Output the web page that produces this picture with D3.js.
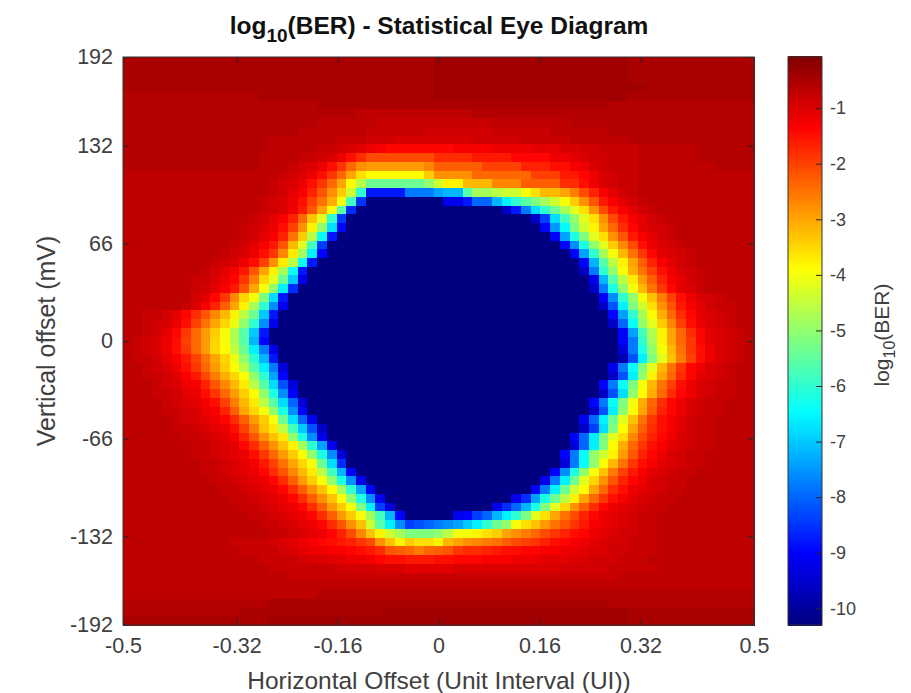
<!DOCTYPE html>
<html>
<head>
<meta charset="utf-8">
<script src="https://cdn.jsdelivr.net/npm/d3@7"></script>
<style>
body { margin: 0; background: #fff; }
text { font-family: "Liberation Sans", Arial, sans-serif; fill: #404040; }
</style>
</head>
<body>
<script>
var width = 911, height = 693;

const xTicks = [-0.5, -0.32, -0.16, 0, 0.16, 0.32, 0.5];
const yTicks = [-192, -132, -66, 0, 66, 132, 192];
const barTicks = [-1, -2, -3, -4, -5, -6, -7, -8, -9, -10];
const barDomain = [-10.3, -0.08];
const jetStops = ["#000080", "#0000ff", "#00ffff", "#ffff00", "#ff0000", "#800000"];
const jetPos = [0, 0.125, 0.375, 0.625, 0.875, 1];

// -log10(BER) in tenths. 65 rows top to bottom, 65 columns left to right
const berDepth = [
[5,5,5,5,5,5,5,5,5,5,5,5,5,5,5,5,5,5,5,5,5,5,5,5,5,5,5,5,5,5,5,5,4,4,4,4,4,4,4,4,4,4,4,4,4,4,4,4,4,4,4,4,5,5,5,5,5,5,5,5,5,5,5,5,5],
[5,5,5,5,5,5,5,5,5,5,5,5,5,5,5,5,5,5,5,5,5,5,5,5,5,5,5,5,5,5,5,5,4,4,4,4,4,4,4,4,4,4,4,4,4,4,4,4,4,4,4,4,5,5,5,5,5,5,5,5,5,5,5,5,5],
[5,5,5,5,5,5,5,5,5,5,5,5,5,5,5,5,5,5,5,5,5,5,5,5,5,5,5,5,5,5,5,5,4,4,4,4,4,4,4,4,4,4,4,4,4,4,4,4,4,4,4,4,5,5,5,5,5,5,5,5,5,5,5,5,5],
[5,5,5,5,5,5,5,5,5,5,5,5,5,5,5,5,5,5,5,5,5,5,5,5,5,5,5,5,5,5,5,5,4,4,4,4,4,4,4,4,4,4,4,4,4,4,4,4,4,4,4,4,4,4,5,5,5,5,5,5,5,5,5,5,5],
[6,6,6,6,6,6,6,6,6,6,6,6,6,6,5,5,5,5,5,5,5,5,5,5,5,5,5,5,5,5,5,5,4,4,4,4,4,4,4,4,4,4,4,4,4,4,4,4,4,4,4,4,5,5,5,5,5,5,5,5,5,5,5,5,5],
[6,6,6,6,6,6,6,6,6,6,6,6,6,6,6,6,6,6,6,6,5,5,5,5,5,5,5,5,5,5,5,5,5,5,5,5,5,5,5,5,5,5,5,5,5,5,5,5,5,5,6,6,6,6,6,6,6,6,6,6,6,6,6,6,6],
[6,6,6,6,6,6,6,6,6,6,6,6,6,6,6,6,6,6,6,6,6,6,6,6,7,7,7,7,7,7,7,7,7,7,7,7,6,6,6,6,6,6,6,6,6,6,6,6,6,6,6,6,6,6,6,6,6,6,6,6,6,6,6,6,6],
[6,6,6,6,6,6,6,6,6,6,6,6,6,6,6,6,6,6,6,6,7,7,7,7,7,7,8,8,8,8,8,8,8,8,8,8,8,8,7,7,7,7,7,7,7,7,6,6,6,6,6,6,6,6,6,6,6,6,6,6,6,6,6,6,6],
[6,6,6,6,6,6,6,6,6,6,6,6,6,6,6,6,6,6,7,7,7,7,7,7,7,8,8,8,8,8,8,9,9,9,9,9,9,9,8,8,8,8,8,8,7,7,7,7,7,7,6,6,6,6,6,6,6,6,6,6,6,6,6,6,6],
[6,6,6,6,6,6,6,6,6,6,6,6,6,6,6,7,7,7,7,7,7,7,8,8,8,9,9,9,10,10,10,10,10,10,10,10,9,9,9,9,9,8,8,8,8,8,7,7,7,7,7,7,6,6,6,6,6,6,6,6,6,6,6,6,6],
[6,6,6,6,6,6,6,6,6,6,6,6,6,6,6,7,7,7,7,7,8,8,9,10,11,12,13,14,14,14,14,14,14,14,13,13,13,13,12,12,12,12,11,11,11,10,10,9,9,8,8,8,8,7,7,7,7,7,7,6,6,6,6,6,6],
[6,6,6,6,6,6,6,6,6,6,6,6,6,6,7,7,7,7,8,8,9,10,12,15,18,21,21,21,21,21,21,21,18,18,18,18,16,16,16,16,14,14,14,14,12,12,11,10,9,9,8,8,8,7,7,7,7,7,7,6,6,6,6,6,6],
[6,6,6,6,6,6,6,6,6,6,6,6,6,6,7,7,7,8,9,10,12,15,19,24,28,29,29,29,29,29,29,27,23,23,23,23,23,20,20,20,20,17,17,17,15,15,13,12,10,9,8,8,8,7,7,7,7,7,7,7,7,6,6,6,6],
[7,7,7,7,7,7,7,7,7,7,7,7,7,7,7,7,8,9,10,12,15,19,24,30,36,39,39,39,39,39,39,34,28,28,28,28,24,24,24,24,24,24,20,20,20,16,16,14,12,10,9,8,8,7,7,7,7,7,7,7,7,7,7,7,7],
[7,7,7,7,7,7,7,7,7,7,7,7,7,7,7,8,9,10,12,15,19,24,30,39,46,54,54,54,54,54,54,50,44,38,38,32,32,32,27,27,27,23,23,23,23,18,18,15,12,10,9,8,8,7,7,7,7,7,7,7,7,7,7,7,7],
[7,7,7,7,7,7,7,7,7,7,7,7,7,7,7,8,9,11,13,17,22,28,34,44,60,88,88,88,88,78,78,78,74,72,72,56,48,48,46,44,44,40,36,32,32,30,26,21,17,13,11,9,8,7,7,7,7,7,7,7,7,7,7,7,7],
[7,7,7,7,7,7,7,7,7,7,7,7,7,7,8,9,10,12,15,20,25,31,40,58,85,103,103,103,103,103,103,103,103,92,92,88,80,80,72,66,60,56,52,48,44,40,34,28,22,16,13,11,9,8,7,7,7,7,7,7,7,7,7,7,7],
[7,7,7,7,7,7,7,7,7,7,7,7,7,7,8,9,10,12,16,22,30,39,56,86,103,103,103,103,103,103,103,103,103,103,103,103,103,103,103,96,88,78,68,60,54,48,42,36,28,21,16,13,11,9,8,7,7,7,7,7,7,7,7,7,7],
[7,7,7,7,7,7,7,7,7,7,7,7,7,8,9,11,13,17,24,33,42,60,85,103,103,103,103,103,103,103,103,103,103,103,103,103,103,103,103,103,103,103,96,84,68,58,50,42,36,28,21,16,13,11,9,8,7,7,7,7,7,7,7,7,7],
[7,7,7,7,7,7,7,7,7,7,7,7,8,9,10,12,15,20,28,38,50,68,90,103,103,103,103,103,103,103,103,103,103,103,103,103,103,103,103,103,103,103,103,90,75,65,52,44,38,30,24,18,14,11,10,9,8,7,7,7,7,7,7,7,7],
[7,7,7,7,7,7,7,7,7,7,7,7,8,9,11,13,17,25,34,46,64,88,103,103,103,103,103,103,103,103,103,103,103,103,103,103,103,103,103,103,103,103,103,103,90,74,62,52,42,36,28,22,16,13,11,9,8,7,7,7,7,7,7,7,7],
[7,7,7,7,7,7,7,7,7,7,7,8,9,11,13,16,22,32,42,58,84,103,103,103,103,103,103,103,103,103,103,103,103,103,103,103,103,103,103,103,103,103,103,103,103,90,76,62,50,42,34,27,21,15,12,10,9,8,7,7,7,7,7,7,7],
[7,7,7,7,7,7,7,7,7,7,8,9,10,12,15,19,27,37,48,66,90,103,103,103,103,103,103,103,103,103,103,103,103,103,103,103,103,103,103,103,103,103,103,103,103,103,90,74,60,48,40,32,25,19,14,11,10,9,8,7,7,7,7,7,7],
[7,7,7,7,7,7,7,7,7,8,9,10,12,15,20,28,37,46,64,88,103,103,103,103,103,103,103,103,103,103,103,103,103,103,103,103,103,103,103,103,103,103,103,103,103,103,103,90,72,56,46,38,30,23,17,13,11,9,8,7,7,7,7,7,7],
[7,7,7,7,7,7,7,7,8,9,11,13,16,22,30,38,48,64,88,103,103,103,103,103,103,103,103,103,103,103,103,103,103,103,103,103,103,103,103,103,103,103,103,103,103,103,103,96,78,60,50,39,31,25,20,15,12,10,9,8,7,7,7,7,7],
[7,7,7,7,7,7,7,8,8,10,12,14,19,26,35,42,54,70,92,103,103,103,103,103,103,103,103,103,103,103,103,103,103,103,103,103,103,103,103,103,103,103,103,103,103,103,103,103,92,72,56,46,37,29,23,17,13,11,9,8,7,7,7,7,7],
[7,7,7,7,7,7,7,8,9,11,13,16,22,30,40,50,66,86,103,103,103,103,103,103,103,103,103,103,103,103,103,103,103,103,103,103,103,103,103,103,103,103,103,103,103,103,103,103,96,78,62,50,40,32,25,19,14,11,10,8,7,7,7,7,7],
[7,7,7,7,7,7,7,9,11,14,19,27,35,40,52,68,88,103,103,103,103,103,103,103,103,103,103,103,103,103,103,103,103,103,103,103,103,103,103,103,103,103,103,103,103,103,103,103,103,90,76,60,50,40,33,26,20,15,12,10,9,8,7,7,7],
[7,7,7,7,7,7,8,10,13,17,23,30,38,48,60,76,92,103,103,103,103,103,103,103,103,103,103,103,103,103,103,103,103,103,103,103,103,103,103,103,103,103,103,103,103,103,103,103,103,96,82,66,52,44,36,28,22,16,13,11,9,8,8,7,7],
[7,7,8,8,9,11,14,18,22,27,32,38,46,54,70,88,103,103,103,103,103,103,103,103,103,103,103,103,103,103,103,103,103,103,103,103,103,103,103,103,103,103,103,103,103,103,103,103,103,103,90,74,60,48,39,31,24,18,14,11,10,9,8,7,7],
[7,7,8,9,10,12,15,20,25,30,35,41,50,60,76,92,103,103,103,103,103,103,103,103,103,103,103,103,103,103,103,103,103,103,103,103,103,103,103,103,103,103,103,103,103,103,103,103,103,103,96,80,64,50,42,34,27,20,15,12,10,9,8,7,7],
[7,7,8,9,11,14,19,24,29,34,40,47,56,70,88,103,103,103,103,103,103,103,103,103,103,103,103,103,103,103,103,103,103,103,103,103,103,103,103,103,103,103,103,103,103,103,103,103,103,103,103,90,74,58,47,38,30,24,18,14,11,10,9,8,7],
[7,8,9,10,12,15,20,24,29,35,40,47,56,72,90,103,103,103,103,103,103,103,103,103,103,103,103,103,103,103,103,103,103,103,103,103,103,103,103,103,103,103,103,103,103,103,103,103,103,103,103,90,78,60,48,38,30,24,19,14,11,10,9,8,7],
[7,8,9,10,12,15,19,24,29,35,39,45,54,66,78,92,103,103,103,103,103,103,103,103,103,103,103,103,103,103,103,103,103,103,103,103,103,103,103,103,103,103,103,103,103,103,103,103,103,103,103,94,78,62,50,40,32,25,19,15,12,10,9,8,7],
[7,8,8,9,11,13,16,20,25,30,35,41,50,60,72,88,103,103,103,103,103,103,103,103,103,103,103,103,103,103,103,103,103,103,103,103,103,103,103,103,103,103,103,103,103,103,103,103,103,103,103,98,82,66,52,42,33,26,20,15,12,10,9,8,7],
[7,7,8,9,10,12,15,19,24,29,34,39,46,56,66,78,94,103,103,103,103,103,103,103,103,103,103,103,103,103,103,103,103,103,103,103,103,103,103,103,103,103,103,103,103,103,103,103,103,103,92,78,64,52,42,32,25,19,14,12,10,9,8,7,7],
[7,7,8,8,9,11,13,16,21,26,31,35,39,50,60,74,90,103,103,103,103,103,103,103,103,103,103,103,103,103,103,103,103,103,103,103,103,103,103,103,103,103,103,103,103,103,103,103,103,103,96,82,66,50,38,30,24,18,14,11,10,9,8,7,7],
[7,7,7,8,9,10,12,13,17,22,27,32,37,46,56,68,82,94,103,103,103,103,103,103,103,103,103,103,103,103,103,103,103,103,103,103,103,103,103,103,103,103,103,103,103,103,103,103,103,90,78,64,52,40,32,25,20,15,12,10,9,8,8,7,7],
[7,7,7,8,8,9,11,12,15,19,24,29,34,39,50,62,76,90,103,103,103,103,103,103,103,103,103,103,103,103,103,103,103,103,103,103,103,103,103,103,103,103,103,103,103,103,103,103,103,96,82,68,50,39,31,24,18,14,12,10,9,8,8,7,7],
[7,7,7,7,8,9,10,11,13,15,20,26,32,37,46,56,68,80,94,103,103,103,103,103,103,103,103,103,103,103,103,103,103,103,103,103,103,103,103,103,103,103,103,103,103,103,103,103,90,78,64,52,40,31,24,18,14,12,10,9,8,8,7,7,7],
[7,7,7,7,8,8,9,10,12,13,17,23,30,35,40,50,62,76,90,103,103,103,103,103,103,103,103,103,103,103,103,103,103,103,103,103,103,103,103,103,103,103,103,103,103,103,103,103,96,82,66,50,39,30,23,17,14,12,10,9,8,8,7,7,7],
[7,7,7,7,7,8,9,10,11,12,14,18,23,29,34,40,54,68,80,92,103,103,103,103,103,103,103,103,103,103,103,103,103,103,103,103,103,103,103,103,103,103,103,103,103,103,103,92,80,66,54,42,33,25,19,15,13,11,9,8,8,7,7,7,7],
[7,7,7,7,7,8,8,9,10,11,12,15,20,26,33,37,46,58,70,82,96,103,103,103,103,103,103,103,103,103,103,103,103,103,103,103,103,103,103,103,103,103,103,103,103,103,103,96,84,68,52,39,30,23,18,15,13,11,9,8,8,7,7,7,7],
[7,7,7,7,7,7,8,8,9,10,11,13,17,22,28,33,37,50,62,76,92,103,103,103,103,103,103,103,103,103,103,103,103,103,103,103,103,103,103,103,103,103,103,103,103,103,90,80,66,52,42,36,27,21,17,14,12,10,9,8,8,7,7,7,7],
[7,7,7,7,7,7,7,8,8,9,10,11,14,18,23,28,33,38,48,60,74,92,103,103,103,103,103,103,103,103,103,103,103,103,103,103,103,103,103,103,103,103,103,103,103,103,94,80,66,52,39,31,24,19,15,13,11,10,9,8,8,7,7,7,7],
[7,7,7,7,7,7,7,8,8,9,10,11,12,15,19,24,29,34,39,50,62,76,94,103,103,103,103,103,103,103,103,103,103,103,103,103,103,103,103,103,103,103,103,103,103,90,78,64,50,44,38,29,22,17,14,12,10,9,8,8,7,7,7,7,7],
[7,7,7,7,7,7,7,7,8,8,9,10,11,13,16,20,25,30,35,40,54,68,86,103,103,103,103,103,103,103,103,103,103,103,103,103,103,103,103,103,103,103,103,103,103,94,78,64,50,39,32,25,19,15,13,11,10,9,8,8,7,7,7,7,7],
[7,7,7,7,7,7,7,7,8,8,9,10,11,12,14,18,22,27,32,37,46,58,72,90,103,103,103,103,103,103,103,103,103,103,103,103,103,103,103,103,103,103,103,103,90,76,62,50,40,33,26,20,16,13,11,10,9,8,8,7,7,7,7,7,7],
[7,7,7,7,7,7,7,7,7,8,8,9,10,11,12,14,18,23,29,34,40,50,62,76,92,103,103,103,103,103,103,103,103,103,103,103,103,103,103,103,103,103,103,92,78,66,54,42,35,28,22,17,14,12,10,9,8,8,7,7,7,7,7,7,7],
[7,7,7,7,7,7,7,7,7,7,8,8,9,10,11,12,14,18,23,28,33,39,48,60,74,90,103,103,103,103,103,103,103,103,103,103,103,103,103,103,103,103,90,78,66,54,44,39,30,24,18,15,12,11,10,9,8,8,7,7,7,7,7,7,7],
[7,7,7,7,7,7,7,7,7,7,7,8,8,9,10,11,12,14,18,23,28,33,39,50,62,76,92,103,103,103,103,103,103,103,103,103,103,103,103,103,92,86,74,62,54,46,38,30,24,19,15,13,11,10,9,8,8,7,7,7,7,7,7,7,7],
[7,7,7,7,7,7,7,7,7,7,7,7,8,8,9,10,11,12,14,18,23,29,34,40,52,66,84,94,103,103,103,103,103,103,103,103,103,103,92,86,80,72,62,52,42,35,28,23,18,14,12,11,10,9,8,8,7,7,7,7,7,7,7,7,7],
[7,7,7,7,7,7,7,7,7,7,7,7,7,8,8,9,10,11,12,14,18,23,29,34,40,48,58,72,90,103,103,103,103,103,92,90,84,80,72,66,60,52,42,36,30,25,21,17,14,12,11,10,9,8,8,7,7,7,7,7,7,7,7,7,7],
[7,7,7,7,7,7,7,7,7,7,7,7,7,7,8,8,9,10,11,12,14,18,22,28,33,44,56,66,76,84,82,80,78,76,74,70,66,60,54,50,40,36,33,29,25,22,19,16,13,12,11,10,9,8,8,7,7,7,7,7,7,7,7,7,7],
[7,7,7,7,7,7,7,7,7,7,7,7,7,7,7,8,8,9,10,11,12,14,17,21,27,33,38,44,48,52,52,52,50,46,40,40,38,36,34,30,28,26,24,21,19,17,15,14,12,11,10,9,9,8,8,7,7,7,7,7,7,7,7,7,7],
[7,7,7,7,7,7,7,7,7,7,7,8,8,8,8,9,10,11,12,13,14,15,16,17,19,21,28,33,38,34,36,36,38,32,30,28,27,26,25,23,21,20,19,17,15,14,13,12,11,10,9,9,8,8,8,7,7,7,7,7,7,7,7,7,7],
[7,7,7,7,7,7,7,7,7,7,7,7,8,8,8,8,9,10,11,12,12,13,13,14,15,16,18,22,23,24,26,24,23,22,19,18,18,17,16,15,15,14,14,13,13,12,12,11,10,10,9,9,8,8,8,7,7,7,7,7,7,7,7,7,7],
[7,7,7,7,7,7,7,7,7,7,7,7,7,7,8,8,8,8,9,10,10,11,11,12,12,13,14,15,15,16,16,16,15,15,14,14,14,13,13,13,12,12,12,11,11,11,10,10,9,9,9,8,8,8,7,7,7,7,7,7,7,7,7,7,7],
[7,7,7,7,7,7,7,7,7,7,7,7,7,7,7,8,8,8,8,8,8,8,9,9,9,9,10,10,10,11,11,11,11,11,10,10,10,10,10,10,10,10,10,10,10,9,9,9,9,9,8,8,8,8,8,7,7,7,7,7,7,7,7,7,7],
[7,7,7,7,7,7,7,7,7,7,7,7,7,7,7,7,7,8,8,8,8,8,8,8,8,8,8,8,8,8,8,8,8,8,8,8,8,8,8,8,8,8,8,8,8,8,8,8,8,8,8,7,7,7,7,7,7,7,7,7,7,7,7,7,7],
[7,7,7,7,7,7,7,7,7,7,7,7,7,7,7,7,7,7,7,7,7,7,7,7,7,7,7,7,7,7,7,7,7,7,7,7,7,7,7,7,7,7,7,7,7,7,7,7,7,7,7,7,7,7,7,7,7,7,7,7,7,7,7,7,7],
[7,7,7,7,7,7,7,7,7,7,7,7,7,7,7,7,7,7,7,7,6,6,6,6,6,6,6,6,6,6,6,6,6,6,6,6,6,6,6,6,6,6,6,6,6,6,6,6,6,6,6,6,6,6,6,6,6,6,6,6,6,6,6,6,6],
[6,6,6,6,6,6,6,6,6,6,6,6,6,6,6,5,5,5,5,5,5,5,5,5,5,5,5,5,5,5,5,5,5,5,5,5,5,5,5,5,5,5,5,5,5,5,5,5,5,5,6,6,6,6,6,6,6,6,6,6,6,6,6,6,6],
[6,6,6,6,6,6,6,6,6,6,6,6,5,5,5,5,5,5,5,5,5,5,5,5,5,5,5,4,4,4,4,4,4,4,4,4,4,4,4,4,4,4,4,4,4,4,4,4,4,4,4,4,5,5,5,5,5,5,5,5,5,5,5,5,5],
[5,5,5,5,5,5,5,5,5,5,5,5,5,5,5,4,4,4,4,4,4,4,4,4,4,4,4,4,4,4,4,4,4,4,4,4,4,4,4,4,4,4,4,4,4,4,4,4,4,4,4,4,5,5,5,5,5,5,5,5,5,5,5,5,5]
];

var plot = {left: 123, right: 754, top: 57, bottom: 625};
var bar = {left: 788, right: 822};

var svg = d3.select("body").append("svg")
  .attr("width", width)
  .attr("height", height)
  .style("display", "block");

const x = d3.scaleLinear().domain([-0.5, 0.5]).range([plot.left, plot.right]);
const y = d3.scaleLinear().domain([-192, 192]).range([plot.bottom, plot.top]);
const colBand = d3.scaleBand().domain(d3.range(berDepth[0].length)).range([plot.left, plot.right]);
const rowBand = d3.scaleBand().domain(d3.range(berDepth.length)).range([plot.top, plot.bottom]);
const barY = d3.scaleLinear().domain(barDomain).range([plot.bottom, plot.top]);

const jet = d3.scaleLinear()
  .domain(jetPos.map(p => barDomain[0] + p * (barDomain[1] - barDomain[0])))
  .range(jetStops)
  .clamp(true);

// heatmap cells
svg.append("g").attr("shape-rendering", "crispEdges").selectAll("g")
  .data(berDepth)
  .join("g")
  .attr("transform", (d, i) => "translate(0," + rowBand(i) + ")")
  .selectAll("rect")
  .data(d => d)
  .join("rect")
    .attr("x", (d, i) => colBand(i))
    .attr("width", colBand.bandwidth() + 0.5)
    .attr("height", rowBand.bandwidth() + 0.5)
    .attr("fill", d => jet(-d / 10));

// colour bar
const barSteps = d3.range(barDomain[0], barDomain[1], 0.04);
svg.append("g").attr("shape-rendering", "crispEdges").selectAll("rect")
  .data(barSteps)
  .join("rect")
    .attr("x", bar.left)
    .attr("width", bar.right - bar.left)
    .attr("y", d => barY(d + 0.04))
    .attr("height", d => barY(d) - barY(d + 0.04) + 0.5)
    .attr("fill", d => jet(d));

function styleAxis(g) {
  g.select(".domain").remove();
  g.selectAll("line").attr("stroke", "#262626");
  g.selectAll("text").style("font-size", "21.5px").attr("fill", "#404040");
}

svg.append("g").attr("transform", "translate(0," + plot.bottom + ")")
  .call(d3.axisBottom(x).tickValues(xTicks).tickSize(-6).tickPadding(13).tickFormat(d => d))
  .call(styleAxis);
svg.append("g").attr("transform", "translate(0," + plot.top + ")")
  .call(d3.axisTop(x).tickValues(xTicks).tickSize(-6).tickFormat(""))
  .call(styleAxis);
svg.append("g").attr("transform", "translate(" + plot.left + ",0)")
  .call(d3.axisLeft(y).tickValues(yTicks).tickSize(-6).tickPadding(10).tickFormat(d => d))
  .call(styleAxis);
svg.append("g").attr("transform", "translate(" + plot.right + ",0)")
  .call(d3.axisRight(y).tickValues(yTicks).tickSize(-6).tickFormat(""))
  .call(styleAxis);
svg.append("g").attr("transform", "translate(" + bar.right + ",0)")
  .call(d3.axisRight(barY).tickValues(barTicks).tickSize(-6).tickPadding(8).tickFormat(d => d))
  .call(styleAxis)
  .selectAll("text").style("font-size", "18px");

svg.append("rect")
  .attr("x", plot.left).attr("y", plot.top)
  .attr("width", plot.right - plot.left).attr("height", plot.bottom - plot.top)
  .attr("fill", "none").attr("stroke", "#333");
svg.append("rect")
  .attr("x", bar.left).attr("y", plot.top)
  .attr("width", bar.right - bar.left).attr("height", plot.bottom - plot.top)
  .attr("fill", "none").attr("stroke", "#333");

// labels
var title = svg.append("text")
  .attr("x", 439).attr("y", 34)
  .attr("text-anchor", "middle")
  .style("font-size", "24.5px").style("font-weight", "bold")
  .style("fill", "#111");
title.append("tspan").text("log");
title.append("tspan").attr("dy", 8).style("font-size", "19px").text("10");
title.append("tspan").attr("dy", -8).text("(BER) - Statistical Eye Diagram");

svg.append("text")
  .attr("x", 439).attr("y", 689)
  .attr("text-anchor", "middle")
  .style("font-size", "24.5px")
  .text("Horizontal Offset (Unit Interval (UI))");

svg.append("text")
  .attr("transform", "translate(55,341) rotate(-90)")
  .attr("text-anchor", "middle")
  .style("font-size", "25px")
  .text("Vertical offset (mV)");

var barLabel = svg.append("text")
  .attr("transform", "translate(889,335) rotate(-90)")
  .attr("text-anchor", "middle")
  .style("font-size", "21px");
barLabel.append("tspan").text("log");
barLabel.append("tspan").attr("dy", 6).style("font-size", "16px").text("10");
barLabel.append("tspan").attr("dy", -6).text("(BER)");
</script>
</body>
</html>
